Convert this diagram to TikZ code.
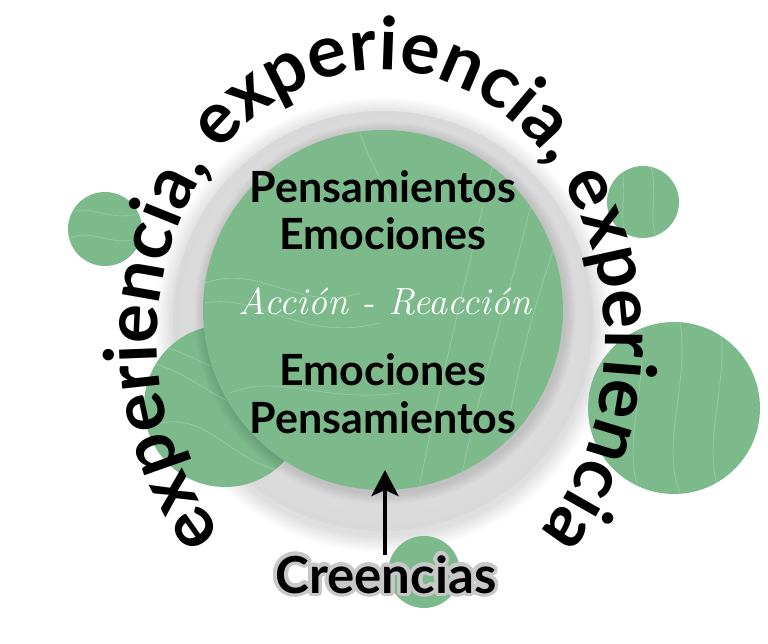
\documentclass[tikz,border=0pt]{standalone}
\usepackage{fontspec}
\usepackage{contour}
\usetikzlibrary{decorations.text, arrows.meta, calc}
\newfontfamily\latofont{Lato}
\definecolor{leaf}{HTML}{7CB98B}
\definecolor{leaflight}{HTML}{A6D3B1}
\definecolor{ringin}{HTML}{EBEBEB}
\definecolor{ringout}{HTML}{D9D9D9}
\definecolor{outlinegrey}{HTML}{C8C8C8}
\contourlength{3.6pt}
\contournumber{32}
\tikzset{
  bubble/.style={fill=leaf},
  texture/.style={draw=leaflight, opacity=0.55, line width=0.9pt},
  maintext/.style={font=\latofont\bfseries\fontsize{43}{46}\selectfont, inner sep=0pt, anchor=base},
  scripttext/.style={font=\itshape\fontsize{38}{40}\selectfont, text=white, inner sep=0pt, anchor=base},
  cretext/.style={font=\latofont\bfseries\fontsize{51}{54}\selectfont, inner sep=0pt, anchor=base},
}
\begin{document}
\begin{tikzpicture}[x=1pt, y=1pt]
\useasboundingbox (0,0) rectangle (768,643);
\fill[white] (0,0) rectangle (768,643);
% soft shadow of the grey disc
\foreach \i in {1,...,8} {
  \fill[black, opacity=0.016] (383,318) circle ({210+\i*2.2});
}
% grey disc
\shade[inner color=ringin, outer color=ringout] (383,322) circle (210);
% small bubbles
\fill[bubble] (105,414) circle (37);
\fill[bubble] (643,441) circle (36);
\fill[bubble] (674,235) circle (86);
\fill[bubble] (424,71) circle (36);
\fill[bubble] (225,237) circle (81);
% textures in small bubbles
\begin{scope}
  \clip (225,237) circle (81);
  \draw[texture] (150,300) .. controls (200,290) and (240,250) .. (300,260);
  \draw[texture] (150,280) .. controls (200,270) and (230,220) .. (300,230);
  \draw[texture] (160,220) .. controls (210,230) and (230,180) .. (290,170);
\end{scope}
\begin{scope}
  \clip (674,235) circle (86);
  \draw[texture] (640,320) .. controls (650,260) and (620,200) .. (640,150);
  \draw[texture] (680,320) .. controls (690,260) and (660,200) .. (680,150);
  \draw[texture] (720,320) .. controls (730,260) and (700,200) .. (720,150);
\end{scope}
\begin{scope}
  \clip (105,414) circle (37);
  \draw[texture] (70,430) .. controls (90,440) and (110,420) .. (140,430);
  \draw[texture] (70,405) .. controls (95,415) and (110,395) .. (140,405);
\end{scope}
\begin{scope}
  \clip (643,441) circle (36);
  \draw[texture] (620,480) .. controls (630,450) and (615,420) .. (630,400);
  \draw[texture] (650,480) .. controls (660,450) and (645,420) .. (660,400);
\end{scope}
% shadow of the main disc
\foreach \i in {1,...,6} {
  \fill[black, opacity=0.02] (385,330) circle ({180+\i*1.8});
}
% main green disc
\node[circle, fill=leaf, minimum size=360pt, inner sep=0pt] (main) at (383,333) {};
\begin{scope}
  \clip (383,333) circle (180);
  \draw[texture] (205,360) .. controls (260,380) and (300,330) .. (360,350);
  \draw[texture] (205,340) .. controls (260,350) and (300,300) .. (380,320);
  \draw[texture] (230,250) .. controls (280,270) and (320,240) .. (400,250);
  \draw[texture] (460,160) .. controls (480,260) and (520,380) .. (540,480);
  \draw[texture] (500,160) .. controls (510,260) and (540,360) .. (570,440);
  \draw[texture] (420,160) .. controls (440,260) and (470,380) .. (500,510);
  \draw[texture] (360,510) .. controls (370,480) and (380,470) .. (390,440);
\end{scope}
% texts inside
\node[maintext] (p1) at (383,440) {Pensamientos};
\node[maintext] (e1) at (383,393) {Emociones};
\node[scripttext] (ar) at (385,328) {Acción - Reacción};
\node[maintext] (e2) at (383,257) {Emociones};
\node[maintext] (p2) at (383,210) {Pensamientos};
% curved text
\path[decorate, decoration={text along path, text align=center,
  text={|\latofont\bfseries\fontsize{73}{73}\selectfont|experiencia{,} experiencia{,} experiencia}}]
  (381,302) ++(240:224 and 271) arc[start angle=240, end angle=-60, x radius=224, y radius=271];
% Creencias with grey outline
\node[cretext] (cr) at (386,50) {\contour{outlinegrey}{Creencias}};
\coordinate (tip) at (385,173);
\draw[line width=4pt, -{Stealth[length=26pt, width=27pt, inset=6pt]}] (cr.north -| tip) -- (tip);
\end{tikzpicture}
\end{document}
